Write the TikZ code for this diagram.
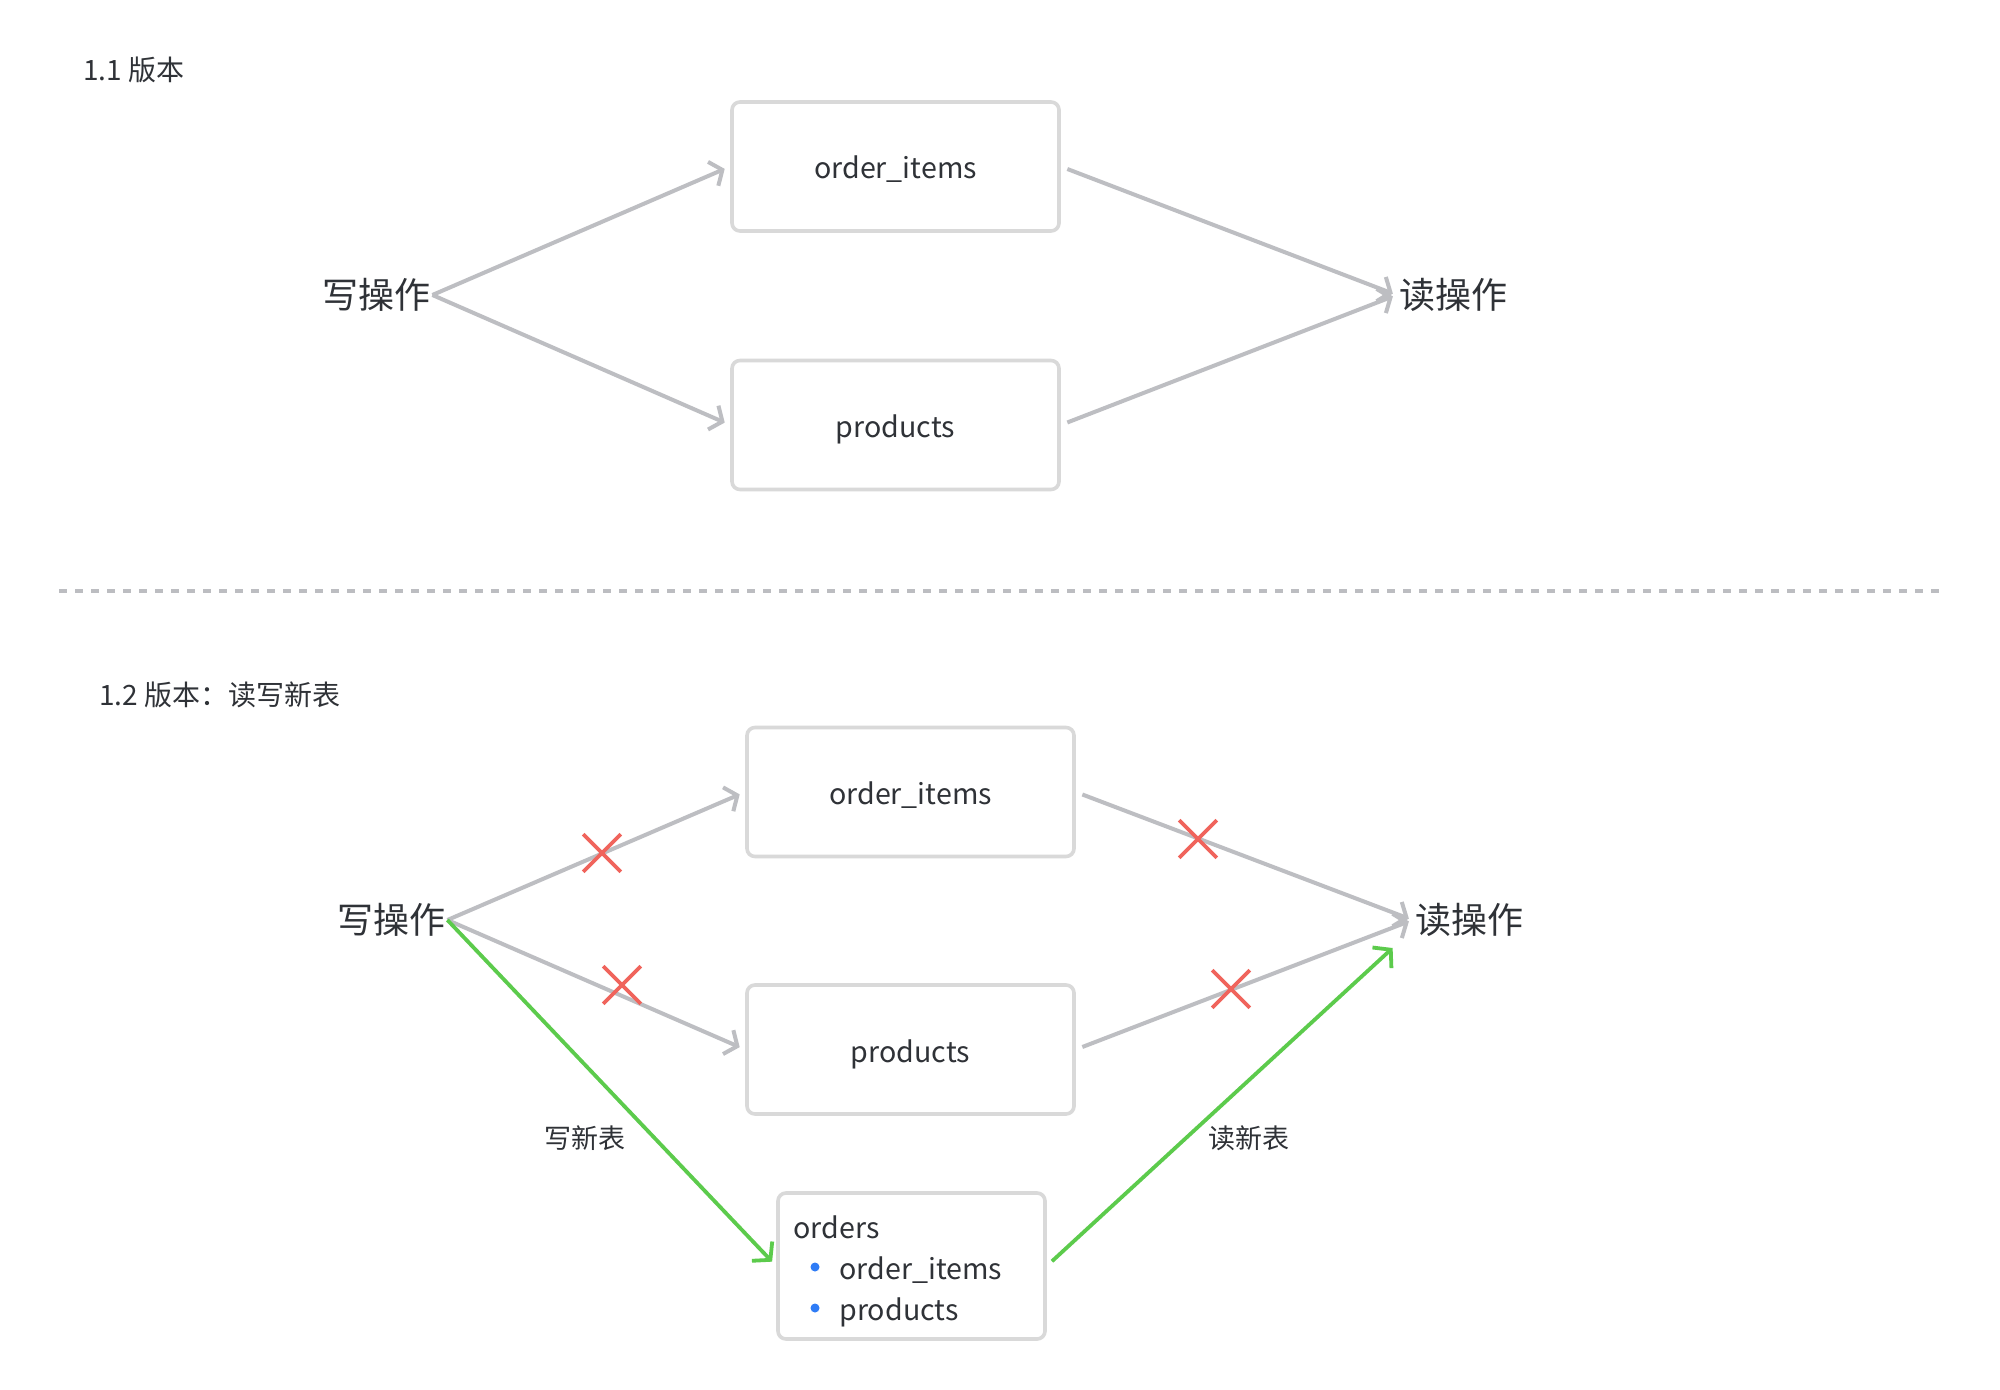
\documentclass[tikz,border=0pt]{standalone}
\usepackage{fontspec}
\setmainfont{Noto Sans CJK SC}
\usetikzlibrary{arrows.meta,shapes.misc}
\definecolor{txt}{HTML}{2F3237}
\definecolor{arrgray}{HTML}{BDBEC2}
\definecolor{boxgray}{HTML}{D9D9D9}
\definecolor{crossred}{HTML}{F0645C}
\definecolor{okgreen}{HTML}{5CCB4C}
\definecolor{bulletblue}{HTML}{2F7CF6}
\definecolor{dashgray}{HTML}{BCBDC1}
\begin{document}
\begin{tikzpicture}[x=0.5pt,y=-0.5pt,
  tbl/.style={draw=boxgray, line width=1.8pt, rounded corners=4pt,
    minimum width=163.5pt, minimum height=64.5pt, inner sep=0pt,
    text height=12.5pt, text depth=0pt,
    text=txt, font=\fontsize{14.3}{17}\selectfont},
  op/.style={text=txt, font=\fontsize{18}{21}\selectfont, inner sep=1pt},
  title/.style={text=txt, font=\fontsize{14}{17}\selectfont, anchor=west, inner sep=0pt},
  lbl/.style={text=txt, font=\fontsize{13.5}{16}\selectfont, inner sep=0pt},
  item/.style={text=txt, font=\fontsize{14.3}{17}\selectfont, anchor=base west, inner sep=0pt},
  flow/.style={draw=arrgray, line width=2pt, -{Straight Barb[length=5pt,width=13pt]}},
  newflow/.style={draw=okgreen, line width=1.9pt, -{Straight Barb[length=6pt,width=14pt]}},
  nope/.style={cross out, draw=crossred, line width=1.8pt, minimum size=17pt, inner sep=0pt},
  dot/.style={circle, fill=bulletblue, minimum size=4.5pt, inner sep=0pt}
]
\useasboundingbox (0,0) rectangle (2000,1390);
\fill[white] (0,0) rectangle (2000,1390);

% ---------- 1.1 ----------
\node[title] (t1) at (83,70) {1.1 版本};
\node[op] (w1) at (376,295) {写操作};
\node[tbl] (oi1) at (895.5,166.5) {order\_items};
\node[tbl] (pr1) at (895.5,425) {products};
\node[op] (r1) at (1453,295) {读操作};

\draw[flow, shorten >=3pt] (w1.east) -- (oi1.west);
\draw[flow, shorten >=3pt] (w1.east) -- (pr1.west);
\draw[flow, shorten <=3.5pt, shorten >=2pt] (oi1.east) -- (r1.west);
\draw[flow, shorten <=3.5pt, shorten >=2pt] (pr1.east) -- (r1.west);

% ---------- separator ----------
\coordinate (sepL) at (59,591);
\coordinate (sepR) at (1939,591);
\draw[dashgray, line width=2pt, dash pattern=on 4pt off 4pt] (sepL) -- (sepR);

% ---------- 1.2 ----------
\node[title] (t2) at (99,695) {1.2 版本：读写新表};
\node[op] (w2) at (391,920) {写操作};
\node[tbl] (oi2) at (910.5,792) {order\_items};
\node[tbl] (pr2) at (910.5,1049.5) {products};
\node[op] (r2) at (1469,920) {读操作};
\node[draw=boxgray, line width=1.8pt, rounded corners=4pt,
      minimum width=133.5pt, minimum height=73pt, inner sep=0pt] (ord) at (911.5,1266) {};
\node[item] (ordt) at (793,1238) {orders};
\node[dot] (b1) at (815,1267) {};
\node[item] (ordi) at (839,1279) {order\_items};
\node[dot] (b2) at (815,1308) {};
\node[item] (ordp) at (839,1320) {products};

\draw[flow, shorten >=3pt] (w2.east) -- (oi2.west);
\draw[flow, shorten >=3pt] (w2.east) -- (pr2.west);
\draw[flow, shorten <=3.5pt, shorten >=2pt] (oi2.east) -- (r2.west);
\draw[flow, shorten <=3.5pt, shorten >=2pt] (pr2.east) -- (r2.west);

\draw[newflow, shorten >=3pt] (w2.east) -- (ord.west);
\draw[newflow, shorten <=3.5pt] (ord.east) -- ([xshift=-10pt,yshift=-14pt]r2.west);

\node[lbl] (l1) at (585,1138) {写新表};
\node[lbl] (l2) at (1249,1138) {读新表};

\node[nope] (x1) at (602,853) {};
\node[nope] (x2) at (622,985) {};
\node[nope] (x3) at (1198,839) {};
\node[nope] (x4) at (1231,989) {};
\end{tikzpicture}
\end{document}
